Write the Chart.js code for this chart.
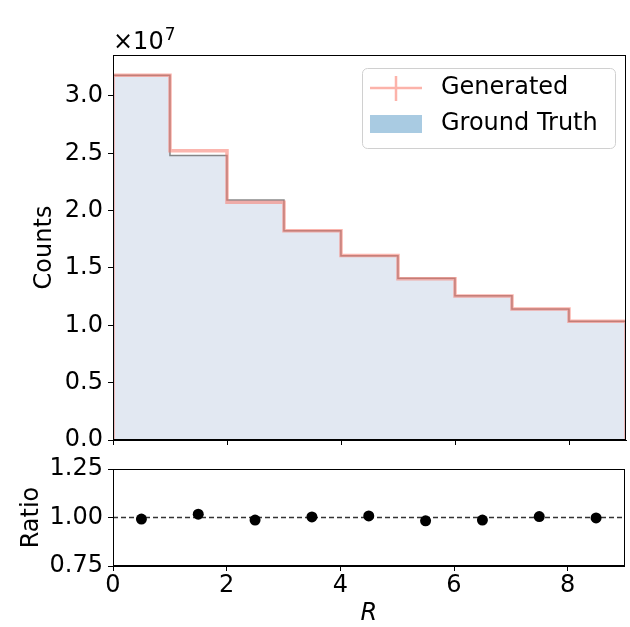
<!DOCTYPE html>
<html>
<head>
<meta charset="utf-8">
<script src="https://cdn.jsdelivr.net/npm/chart.js@4.4.1/dist/chart.umd.min.js"></script>
<style>
  body { margin: 0; background: #fff; }
  #wrap { position: relative; width: 630px; height: 627px; }
  canvas { position: absolute; left: 0; }
</style>
</head>
<body>
<div id="wrap">
  <canvas id="histChart" width="630" height="460" style="top:0"></canvas>
  <canvas id="ratioChart" width="630" height="187" style="top:440px"></canvas>
</div>
<script>
// Data
const binEdges = [0, 1, 2, 3, 4, 5, 6, 7, 8, 9];
const truthCounts = [3.18e7, 2.48e7, 2.093e7, 1.825e7, 1.606e7, 1.41e7, 1.258e7, 1.142e7, 1.035e7];
const generatedCounts = [3.18e7, 2.523e7, 2.073e7, 1.825e7, 1.608e7, 1.405e7, 1.256e7, 1.143e7, 1.035e7];
const ratioValues = [0.992, 1.017, 0.987, 1.003, 1.008, 0.983, 0.987, 1.005, 0.998];
const referenceRatio = 1.0;
const countTicks = [0, 0.5e7, 1.0e7, 1.5e7, 2.0e7, 2.5e7, 3.0e7];
const ratioTicks = [0.75, 1.00, 1.25];
const xTicks = [0, 2, 4, 6, 8];
const countsMax = 3.357e7;

Chart.defaults.font.family = "'DejaVu Sans', sans-serif";
Chart.defaults.font.size = 24;
Chart.defaults.color = '#000';

// step outline: start at 0, one point per bin edge, back down to 0
function stepPoints(values) {
  const pts = [{ x: binEdges[0], y: 0 }];
  values.forEach((v, i) => pts.push({ x: binEdges[i], y: v }));
  pts.push({ x: binEdges[binEdges.length - 1], y: 0 });
  return pts;
}
const binCenters = binEdges.slice(0, -1).map((e, i) => (e + binEdges[i + 1]) / 2);
const fixTicks = list => scale => { scale.ticks = list.map(v => ({ value: v })); };

const frame = {
  id: 'frame',
  afterDraw(chart) {
    const { ctx, chartArea: a } = chart;
    ctx.save();
    ctx.strokeStyle = '#000';
    ctx.lineWidth = 1;
    ctx.strokeRect(Math.round(a.left) + 0.5, Math.round(a.top) + 0.5,
      Math.round(a.right - a.left) - 1, Math.round(a.bottom - a.top) - 1);
    ctx.restore();
  }
};

const extras = {
  id: 'extras',
  afterDraw(chart) {
    const ctx = chart.ctx;
    ctx.save();
    // offset text
    ctx.fillStyle = '#000';
    ctx.textBaseline = 'alphabetic';
    ctx.textAlign = 'left';
    ctx.font = "24px 'DejaVu Sans'";
    ctx.fillText('\u00d710', 113, 49);
    const w = ctx.measureText('\u00d710').width;
    ctx.font = "17px 'DejaVu Sans'";
    ctx.fillText('7', 113 + w + 1, 40);

    // legend
    const x0 = 362, y0 = 68, x1 = 615, y1 = 148;
    ctx.beginPath();
    ctx.roundRect(x0 + 0.5, y0 + 0.5, x1 - x0, y1 - y0, 5);
    ctx.fillStyle = 'rgba(255,255,255,0.8)';
    ctx.fill();
    ctx.strokeStyle = '#d0d0d0';
    ctx.lineWidth = 1;
    ctx.stroke();

    ctx.strokeStyle = 'rgba(250,128,114,0.6)';
    ctx.lineWidth = 2.5;
    ctx.beginPath();
    ctx.moveTo(370, 88); ctx.lineTo(422, 88);
    ctx.moveTo(396, 76); ctx.lineTo(396, 101);
    ctx.stroke();

    ctx.fillStyle = '#a9cbe2';
    ctx.fillRect(370, 115, 52, 18);

    ctx.fillStyle = '#000';
    ctx.font = "24px 'DejaVu Sans'";
    ctx.textBaseline = 'middle';
    ctx.fillText('Generated', 441, 88);
    ctx.fillText('Ground Truth', 441, 124);
    ctx.restore();
  }
};

const axisGrid = { display: true, drawOnChartArea: false, drawTicks: true, tickLength: 5, color: '#000', lineWidth: 1 };
const axisBorder = { display: true, color: '#000', width: 1 };

new Chart(document.getElementById('histChart'), {
  type: 'line',
  data: {
    datasets: [{
      label: 'Generated',
      data: stepPoints(generatedCounts),
      stepped: 'before',
      fill: false,
      borderColor: 'rgba(248,120,108,0.55)',
      borderWidth: 3.5,
      pointRadius: 0,
      order: 1
    }, {
      label: 'Ground Truth',
      data: stepPoints(truthCounts),
      stepped: 'before',
      fill: 'origin',
      backgroundColor: 'rgb(226,232,242)',
      borderColor: 'rgba(60,60,60,0.6)',
      borderWidth: 1.5,
      pointRadius: 0,
      order: 2
    }]
  },
  options: {
    responsive: false,
    animation: false,
    devicePixelRatio: 1,
    layout: { padding: { top: 55, right: 4, left: 0, bottom: 0 } },
    plugins: { legend: { display: false }, tooltip: { enabled: false } },
    scales: {
      x: {
        type: 'linear', min: binEdges[0], max: binEdges[binEdges.length - 1],
        ticks: { display: false },
        afterBuildTicks: fixTicks(xTicks),
        grid: axisGrid, border: axisBorder,
        afterFit(s) { s.height = 20; }
      },
      y: {
        min: 0, max: countsMax,
        ticks: { padding: 5, callback: v => (v / 1e7).toFixed(1) },
        afterBuildTicks: fixTicks(countTicks),
        grid: axisGrid, border: axisBorder,
        title: { display: true, text: 'Counts', padding: { top: 30, bottom: 0 } },
        afterFit(s) { s.width = 113; }
      }
    }
  },
  plugins: [frame, extras]
});

new Chart(document.getElementById('ratioChart'), {
  type: 'scatter',
  data: {
    datasets: [{
      data: binCenters.map((c, i) => ({ x: c, y: ratioValues[i] })),
      backgroundColor: '#000',
      borderWidth: 0,
      pointRadius: 5.5,
      order: 1
    }, {
      type: 'line',
      data: [{ x: binEdges[0], y: referenceRatio }, { x: binEdges[binEdges.length - 1], y: referenceRatio }],
      borderColor: 'rgba(30,30,30,0.9)',
      borderWidth: 1.4,
      borderDash: [5, 3],
      pointRadius: 0,
      order: 2
    }]
  },
  options: {
    responsive: false,
    animation: false,
    devicePixelRatio: 1,
    layout: { padding: { top: 29, right: 4, left: 0, bottom: 0 } },
    plugins: { legend: { display: false }, tooltip: { enabled: false } },
    scales: {
      x: {
        type: 'linear', min: binEdges[0], max: binEdges[binEdges.length - 1],
        ticks: { padding: 0, maxRotation: 0 },
        afterBuildTicks: fixTicks(xTicks),
        grid: axisGrid, border: axisBorder,
        title: { display: true, text: 'R', font: { style: 'italic', lineHeight: 1 }, padding: { top: 0, bottom: 1 } },
        afterFit(s) { s.height = 61; }
      },
      y: {
        min: ratioTicks[0], max: ratioTicks[ratioTicks.length - 1],
        ticks: { padding: 5, callback: v => v.toFixed(2) },
        afterBuildTicks: fixTicks(ratioTicks),
        grid: axisGrid, border: axisBorder,
        title: { display: true, text: 'Ratio', padding: { top: 17, bottom: 0 } },
        afterFit(s) { s.width = 113; }
      }
    }
  },
  plugins: [frame]
});
</script>
</body>
</html>
